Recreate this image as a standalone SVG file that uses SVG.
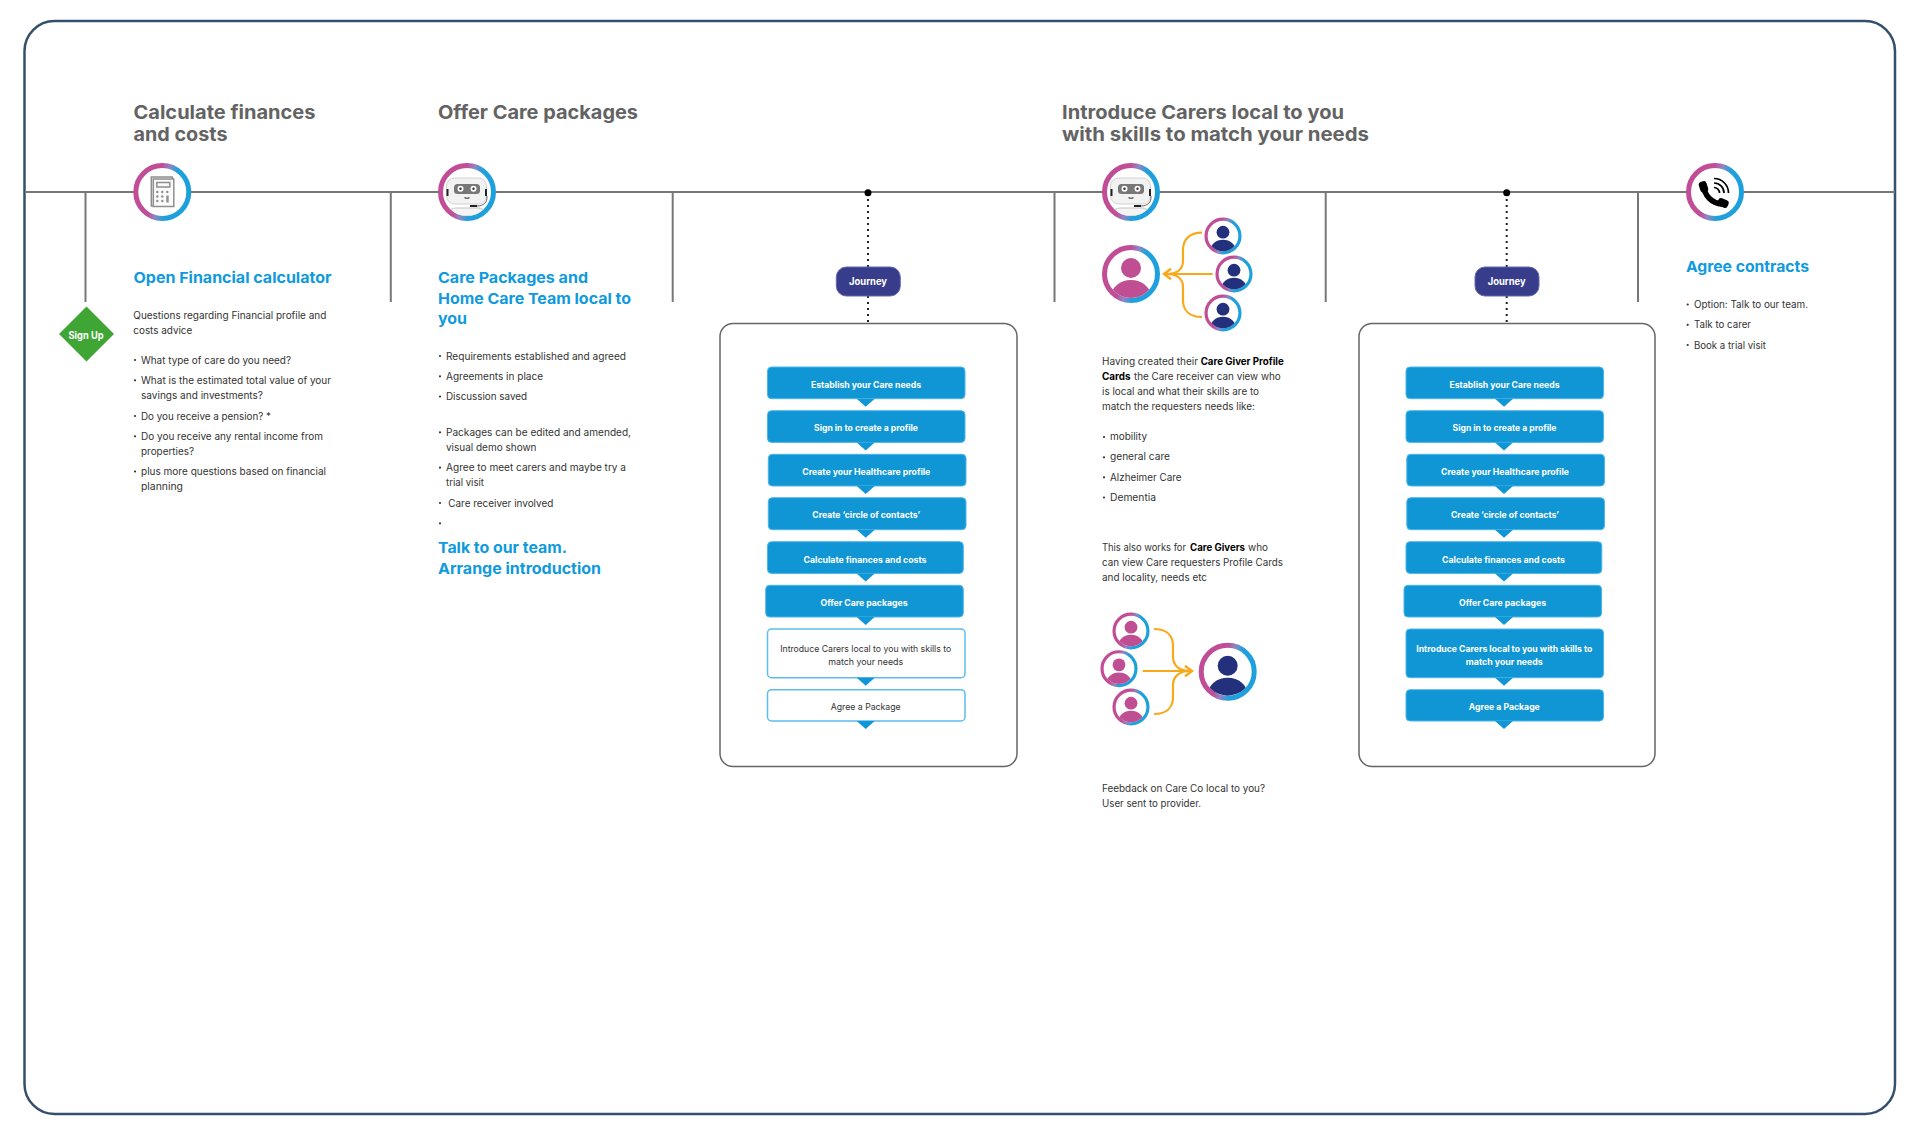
<svg xmlns="http://www.w3.org/2000/svg" width="1920" height="1129" viewBox="0 0 1920 1129">
<style>
text{font-family:Inter,"Liberation Sans",sans-serif}
.h{font-size:19px;font-weight:700;fill:#636363}
.sub{font-size:14.8px;font-weight:700;fill:#0f9ade}
.b{font-size:9.8px;fill:#333;transform:translateY(.4px)}
.bb{font-size:9.8px;font-weight:700;fill:#000;transform:translateY(.4px)}
.st{font-size:8.800px;font-weight:700;fill:#fff;text-anchor:middle;transform:translateY(.7px)}
.sd{font-size:8.800px;fill:#333;text-anchor:middle;transform:translateY(.7px)}
.pill{fill:#373c8b;stroke:#6468ad;stroke-width:1}
.pt{font-size:9.800px;font-weight:700;fill:#fff;text-anchor:middle}
.panel{fill:#fff;stroke:#666;stroke-width:1.5}
.box{fill:#1096d5;stroke:#4db5ea;stroke-width:1}
.wbox{fill:#fff;stroke:#5cbdee;stroke-width:1.5}
.tl{stroke:#777;stroke-width:2;fill:none}
.dot{stroke:#222;stroke-width:2;stroke-dasharray:2 4;fill:none}
.or{stroke:#f9a81a;stroke-width:2.2;fill:none}
.blt{fill:#333}
</style>
<defs>
<linearGradient id="rg" x1="0" y1="0.35" x2="1" y2="0.65"><stop offset="0.36" stop-color="#c04d95"/><stop offset="0.5" stop-color="#8f86c4"/><stop offset="0.66" stop-color="#1ea0dc"/></linearGradient>
<clipPath id="pc"><circle r="24"/></clipPath>
<circle id="ring" r="26.5" fill="#fff" stroke="url(#rg)" stroke-width="5"/>
<g id="pp"><use href="#ring"/><g clip-path="url(#pc)" fill="#bf4f92"><circle cy="-6" r="10"/><ellipse cy="23" rx="20" ry="17"/></g></g>
<g id="pn"><use href="#ring"/><g clip-path="url(#pc)" fill="#23307c"><circle cy="-6" r="10"/><ellipse cy="23" rx="20" ry="17"/></g></g>
<g id="robot">
<use href="#ring"/>
<g clip-path="url(#pc)">
<path d="M-18 24C-18 17-15 16-10 16H10C15 16 18 17 18 24Z" fill="#f4f4f4" stroke="#c4c4c4" stroke-width="1"/>
<rect x="-20.500" y="-14" width="40" height="26" rx="8" fill="#f2f2f2" stroke="#d2d2d2" stroke-width="1"/>
<rect x="-13" y="-8" width="26" height="10" rx="3.500" fill="#777"/>
<circle cx="-6.500" cy="-3.200" r="3" fill="#fff"/><circle cx="6.500" cy="-3.200" r="3" fill="#fff"/>
<circle cx="-6.500" cy="-3.200" r="1.200" fill="#333"/><circle cx="6.500" cy="-3.200" r="1.200" fill="#333"/>
<path d="M-2.500 5.500Q0 7 2.500 5.500" stroke="#444" stroke-width="1.200" fill="none"/>
<rect x="-20.500" y="-3" width="2" height="7" fill="#222"/><rect x="18" y="-3" width="2" height="7" fill="#222"/>
<path d="M20 4C20.500 10 17 14 10 14" stroke="#444" stroke-width="0.800" fill="none"/>
<rect x="3" y="13" width="7" height="2" fill="#222"/>
</g>
</g>
<path id="tri" d="M-9 0H9L0 8Z" fill="#1096d5"/>
<marker id="chev" markerUnits="userSpaceOnUse" markerWidth="14" markerHeight="14" refX="9" refY="6" orient="auto"><path d="M2 0.800L9 6L2 11.200" fill="none" stroke="#f9a81a" stroke-width="2.400"/></marker>
</defs>
<rect width="1920" height="1129" fill="#fff"/>
<rect id="frame" x="24.500" y="21" width="1870.500" height="1093" rx="30" fill="#fff" stroke="#34506b" stroke-width="2.500"/>

<g id="connectors">
<path class="tl" d="M25 192H1895M85.500 192V302M390.800 192V302M672.700 192V302M1054.500 192V302M1325.700 192V302M1638 192V302"/>
<path class="dot" d="M868 193V267M868 296V324M1506.700 193V267M1506.700 296V324"/>
<path class="or" d="M1212.700 274H1164" marker-end="url(#chev)"/>
<path class="or" d="M1202 232.700C1189 232.700 1183 240 1183 250V261C1183 270 1176 274 1166 274M1202 317C1189 317 1183 310 1183 300V287C1183 278 1176 274 1166 274"/>
<path class="or" d="M1142.700 671H1192" marker-end="url(#chev)"/>
<path class="or" d="M1154 629C1167 629 1173 636 1173 646V657C1173 666 1180 671 1190 671M1154 714C1167 714 1173 707 1173 697V685C1173 676 1180 671 1190 671"/>
</g>

<g id="col-finances">
<text class="h" x="133.500" y="118.500" textLength="182" lengthAdjust="spacingAndGlyphs">Calculate finances</text>
<text class="h" x="133.500" y="141" textLength="94" lengthAdjust="spacingAndGlyphs">and costs</text>
</g>
<g id="icon-calculator" transform="translate(162.300 192)">
<use href="#ring"/>
<g fill="none" stroke="#8f8f8f" stroke-width="1.500">
<path d="M-11 -13V-15H10V14H-11Z" fill="#f3f3f3"/><path d="M-9 -13H11.500V14.500H-9Z" fill="#fafafa"/><rect x="-5.500" y="-9.500" width="13" height="4.500"/>
</g>
<g fill="#8f8f8f"><circle cx="-5" cy="0" r="1.200"/><circle cx="0" cy="0" r="1.200"/><circle cx="5" cy="0" r="1.200"/><circle cx="-5" cy="4.500" r="1.200"/><circle cx="0" cy="4.500" r="1.200"/><circle cx="-5" cy="9" r="1.200"/><circle cx="0" cy="9" r="1.200"/><rect x="4" y="3.500" width="2.400" height="7"/></g>
</g>
<g id="sign-up"><path d="M86.500 306.500L114 334L86.500 361.500L59 334Z" fill="#3fa535"/>
<text x="86" y="338.500" font-size="9.800" font-weight="700" fill="#fff" text-anchor="middle" textLength="35" lengthAdjust="spacingAndGlyphs">Sign Up</text></g>
<g id="open-financial">
<text class="sub" x="133.500" y="282.600" textLength="198" lengthAdjust="spacingAndGlyphs">Open Financial calculator</text>
<text class="b" x="133.300" y="319" textLength="193" lengthAdjust="spacingAndGlyphs">Questions regarding Financial profile and</text>
<text class="b" x="133.300" y="333.700" textLength="59" lengthAdjust="spacingAndGlyphs">costs advice</text>
<g class="blt"><circle cx="135" cy="360" r="1.100"/><circle cx="135" cy="380.300" r="1.100"/><circle cx="135" cy="416" r="1.100"/><circle cx="135" cy="436.300" r="1.100"/><circle cx="135" cy="471.500" r="1.100"/></g>
<text class="b" x="141" y="363.700" textLength="150" lengthAdjust="spacingAndGlyphs">What type of care do you need?</text>
<text class="b" x="141" y="384" textLength="190" lengthAdjust="spacingAndGlyphs">What is the estimated total value of your</text>
<text class="b" x="141" y="399" textLength="122" lengthAdjust="spacingAndGlyphs">savings and investments?</text>
<text class="b" x="141" y="419.700" textLength="130" lengthAdjust="spacingAndGlyphs">Do you receive a pension? *</text>
<text class="b" x="141" y="440" textLength="182" lengthAdjust="spacingAndGlyphs">Do you receive any rental income from</text>
<text class="b" x="141" y="455" textLength="53" lengthAdjust="spacingAndGlyphs">properties?</text>
<text class="b" x="141" y="475" textLength="185" lengthAdjust="spacingAndGlyphs">plus more questions based on financial</text>
<text class="b" x="141" y="490" textLength="42" lengthAdjust="spacingAndGlyphs">planning</text>
</g>

<g id="col-offer">
<text class="h" x="438" y="118.500" textLength="200" lengthAdjust="spacingAndGlyphs">Offer Care packages</text>
</g>
<g id="icon-robot-1" transform="translate(467 192)"><use href="#robot"/></g>
<g id="care-packages">
<text class="sub" x="438" y="282.700" textLength="150" lengthAdjust="spacingAndGlyphs">Care Packages and</text>
<text class="sub" x="438" y="303.500" textLength="193" lengthAdjust="spacingAndGlyphs">Home Care Team local to</text>
<text class="sub" x="438" y="324" textLength="29" lengthAdjust="spacingAndGlyphs">you</text>
<g class="blt"><circle cx="440" cy="356" r="1.100"/><circle cx="440" cy="376.300" r="1.100"/><circle cx="440" cy="396.500" r="1.100"/><circle cx="440" cy="432.300" r="1.100"/><circle cx="440" cy="467.700" r="1.100"/><circle cx="440" cy="503" r="1.100"/><circle cx="440" cy="523.300" r="1.100"/></g>
<text class="b" x="446" y="359.500" textLength="180" lengthAdjust="spacingAndGlyphs">Requirements established and agreed</text>
<text class="b" x="446" y="379.700" textLength="97" lengthAdjust="spacingAndGlyphs">Agreements in place</text>
<text class="b" x="446" y="400" textLength="81" lengthAdjust="spacingAndGlyphs">Discussion saved</text>
<text class="b" x="446" y="435.700" textLength="185" lengthAdjust="spacingAndGlyphs">Packages can be edited and amended,</text>
<text class="b" x="446" y="450.400" textLength="90.500" lengthAdjust="spacingAndGlyphs">visual demo shown</text>
<text class="b" x="446" y="471" textLength="180" lengthAdjust="spacingAndGlyphs">Agree to meet carers and maybe try a</text>
<text class="b" x="446" y="486" textLength="38" lengthAdjust="spacingAndGlyphs">trial visit</text>
<text class="b" x="448.300" y="506.300" textLength="105" lengthAdjust="spacingAndGlyphs">Care receiver involved</text>
<text class="sub" x="438" y="553" textLength="129" lengthAdjust="spacingAndGlyphs">Talk to our team.</text>
<text class="sub" x="438" y="573.700" textLength="163" lengthAdjust="spacingAndGlyphs">Arrange introduction</text>
</g>

<g id="journey-1">
<circle cx="868" cy="192.700" r="3.500" fill="#000"/>
<rect class="pill" x="836.300" y="267" width="64" height="29" rx="10"/>
<text class="pt" x="868" y="285" textLength="38" lengthAdjust="spacingAndGlyphs">Journey</text>
</g>
<g id="panel-1">
<rect class="panel" x="720" y="323.500" width="297" height="443" rx="13"/>
<g id="p1-s1"><rect class="box" x="767.500" y="367" width="197.500" height="31.700" rx="4"/><use href="#tri" x="865.700" y="398.700"/><text class="st" x="866" y="387" textLength="110" lengthAdjust="spacingAndGlyphs">Establish your Care needs</text></g>
<g id="p1-s2"><rect class="box" x="767.500" y="410.700" width="197.500" height="31.700" rx="4"/><use href="#tri" x="865.700" y="442.400"/><text class="st" x="866" y="430.700" textLength="104" lengthAdjust="spacingAndGlyphs">Sign in to create a profile</text></g>
<g id="p1-s3"><rect class="box" x="768.300" y="454.300" width="197.700" height="31.700" rx="4"/><use href="#tri" x="865.700" y="486"/><text class="st" x="866.300" y="474.700" textLength="128" lengthAdjust="spacingAndGlyphs">Create your Healthcare profile</text></g>
<g id="p1-s4"><rect class="box" x="768.300" y="497.700" width="197.700" height="32" rx="4"/><use href="#tri" x="865.700" y="529.700"/><text class="st" x="866.300" y="517.700" textLength="108" lengthAdjust="spacingAndGlyphs">Create ‘circle of contacts’</text></g>
<g id="p1-s5"><rect class="box" x="767.500" y="541.700" width="195.800" height="31.700" rx="4"/><use href="#tri" x="865.700" y="573.400"/><text class="st" x="865" y="562" textLength="123" lengthAdjust="spacingAndGlyphs">Calculate finances and costs</text></g>
<g id="p1-s6"><rect class="box" x="765.700" y="585.300" width="197.600" height="31.700" rx="4"/><use href="#tri" x="865.700" y="617"/><text class="st" x="864" y="605.300" textLength="87" lengthAdjust="spacingAndGlyphs">Offer Care packages</text></g>
<g id="p1-s7"><rect class="wbox" x="767.500" y="629" width="197.500" height="48.700" rx="4"/><use href="#tri" x="865.700" y="677.700"/><text class="sd" x="865.700" y="651" textLength="171" lengthAdjust="spacingAndGlyphs">Introduce Carers local to you with skills to</text><text class="sd" x="865.700" y="664.300" textLength="75" lengthAdjust="spacingAndGlyphs">match your needs</text></g>
<g id="p1-s8"><rect class="wbox" x="767.500" y="689.700" width="197.500" height="31.300" rx="4"/><use href="#tri" x="865.700" y="721"/><text class="sd" x="865.700" y="709.700" textLength="70" lengthAdjust="spacingAndGlyphs">Agree a Package</text></g>
</g>

<g id="col-introduce">
<text class="h" x="1062" y="118.500" textLength="282" lengthAdjust="spacingAndGlyphs">Introduce Carers local to you</text>
<text class="h" x="1062" y="141" textLength="307" lengthAdjust="spacingAndGlyphs">with skills to match your needs</text>
</g>
<g id="icon-robot-2" transform="translate(1131 192)"><use href="#robot"/></g>
<g id="person-main" transform="translate(1131 274)"><use href="#pp"/></g>
<g id="carer-1" transform="translate(1223 236) scale(.64)"><use href="#pn"/></g>
<g id="carer-2" transform="translate(1234 274) scale(.64)"><use href="#pn"/></g>
<g id="carer-3" transform="translate(1223 313) scale(.64)"><use href="#pn"/></g>
<g id="introduce-text">
<text class="b" x="1102" y="365" textLength="96" lengthAdjust="spacingAndGlyphs">Having created their</text>
<text class="bb" x="1200.700" y="365" textLength="83" lengthAdjust="spacingAndGlyphs">Care Giver Profile</text>
<text class="bb" x="1102" y="380" textLength="28.500" lengthAdjust="spacingAndGlyphs">Cards</text>
<text class="b" x="1134" y="380" textLength="146.700" lengthAdjust="spacingAndGlyphs">the Care receiver can view who</text>
<text class="b" x="1102" y="395" textLength="157" lengthAdjust="spacingAndGlyphs">is local and what their skills are to</text>
<text class="b" x="1102" y="410" textLength="153" lengthAdjust="spacingAndGlyphs">match the requesters needs like:</text>
<g class="blt"><circle cx="1104" cy="437" r="1.100"/><circle cx="1104" cy="457.300" r="1.100"/><circle cx="1104" cy="477.300" r="1.100"/><circle cx="1104" cy="497.500" r="1.100"/></g>
<text class="b" x="1110" y="440" textLength="37" lengthAdjust="spacingAndGlyphs">mobility</text>
<text class="b" x="1110" y="460" textLength="60" lengthAdjust="spacingAndGlyphs">general care</text>
<text class="b" x="1110" y="480.500" textLength="71.500" lengthAdjust="spacingAndGlyphs">Alzheimer Care</text>
<text class="b" x="1110" y="500.700" textLength="46" lengthAdjust="spacingAndGlyphs">Dementia</text>
<text class="b" x="1102" y="551" textLength="84" lengthAdjust="spacingAndGlyphs">This also works for</text>
<text class="bb" x="1190" y="551" textLength="55" lengthAdjust="spacingAndGlyphs">Care Givers</text>
<text class="b" x="1248" y="551" textLength="20" lengthAdjust="spacingAndGlyphs">who</text>
<text class="b" x="1102" y="566" textLength="181" lengthAdjust="spacingAndGlyphs">can view Care requesters Profile Cards</text>
<text class="b" x="1102" y="581" textLength="105" lengthAdjust="spacingAndGlyphs">and locality, needs etc</text>
</g>
<g id="requester-1" transform="translate(1131 631) scale(.64)"><use href="#pp"/></g>
<g id="requester-2" transform="translate(1119 668.700) scale(.64)"><use href="#pp"/></g>
<g id="requester-3" transform="translate(1131 707) scale(.64)"><use href="#pp"/></g>
<g id="giver-main" transform="translate(1227.700 671.700)"><use href="#pn"/></g>
<g id="feedback">
<text class="b" x="1102" y="792" textLength="163" lengthAdjust="spacingAndGlyphs">Feebdack on Care Co local to you?</text>
<text class="b" x="1102" y="807" textLength="99" lengthAdjust="spacingAndGlyphs">User sent to provider.</text>
</g>

<g id="journey-2">
<circle cx="1506.700" cy="192.700" r="3.500" fill="#000"/>
<rect class="pill" x="1475" y="267" width="64" height="29" rx="10"/>
<text class="pt" x="1506.700" y="285" textLength="38" lengthAdjust="spacingAndGlyphs">Journey</text>
</g>
<g id="panel-2">
<rect class="panel" x="1359" y="323.500" width="296" height="443" rx="13"/>
<g id="p2-s1"><rect class="box" x="1406" y="367" width="197.500" height="31.700" rx="4"/><use href="#tri" x="1504" y="398.700"/><text class="st" x="1504.500" y="387" textLength="110" lengthAdjust="spacingAndGlyphs">Establish your Care needs</text></g>
<g id="p2-s2"><rect class="box" x="1406" y="410.700" width="197.500" height="31.700" rx="4"/><use href="#tri" x="1504" y="442.400"/><text class="st" x="1504.500" y="430.700" textLength="104" lengthAdjust="spacingAndGlyphs">Sign in to create a profile</text></g>
<g id="p2-s3"><rect class="box" x="1406.800" y="454.300" width="197.700" height="31.700" rx="4"/><use href="#tri" x="1504" y="486"/><text class="st" x="1505" y="474.700" textLength="128" lengthAdjust="spacingAndGlyphs">Create your Healthcare profile</text></g>
<g id="p2-s4"><rect class="box" x="1406.800" y="497.700" width="197.700" height="32" rx="4"/><use href="#tri" x="1504" y="529.700"/><text class="st" x="1505" y="517.700" textLength="108" lengthAdjust="spacingAndGlyphs">Create ‘circle of contacts’</text></g>
<g id="p2-s5"><rect class="box" x="1406" y="541.700" width="195.800" height="31.700" rx="4"/><use href="#tri" x="1504" y="573.400"/><text class="st" x="1503.500" y="562" textLength="123" lengthAdjust="spacingAndGlyphs">Calculate finances and costs</text></g>
<g id="p2-s6"><rect class="box" x="1404" y="585.300" width="197.600" height="31.700" rx="4"/><use href="#tri" x="1504" y="617"/><text class="st" x="1502.500" y="605.300" textLength="87" lengthAdjust="spacingAndGlyphs">Offer Care packages</text></g>
<g id="p2-s7"><rect class="box" x="1406" y="629" width="197.500" height="48.700" rx="4"/><use href="#tri" x="1504" y="677.700"/><text class="st" x="1504.300" y="651" textLength="176" lengthAdjust="spacingAndGlyphs">Introduce Carers local to you with skills to</text><text class="st" x="1504.300" y="664.300" textLength="77" lengthAdjust="spacingAndGlyphs">match your needs</text></g>
<g id="p2-s8"><rect class="box" x="1406" y="689.700" width="197.500" height="31.300" rx="4"/><use href="#tri" x="1504" y="721"/><text class="st" x="1504.300" y="709.700" textLength="71" lengthAdjust="spacingAndGlyphs">Agree a Package</text></g>
</g>

<g id="icon-phone" transform="translate(1715 192)">
<use href="#ring"/>
<path d="M-11 -7C-11.500 3 -3 12 8 12" fill="none" stroke="#000" stroke-width="5.500"/>
<rect x="-15.500" y="-10.500" width="8" height="11" rx="3" transform="rotate(-18 -12 -5)" fill="#000"/>
<rect x="2.500" y="7" width="11" height="8" rx="3" transform="rotate(22 8 11)" fill="#000"/>
<path d="M-1 -4.500A5.500 5.500 0 0 1 4.500 1M-1 -9A10 10 0 0 1 9 1M-1 -13.500A14.500 14.500 0 0 1 13.500 1" fill="none" stroke="#000" stroke-width="1.700"/>
</g>
<g id="agree-contracts">
<text class="sub" x="1686" y="272" textLength="123" lengthAdjust="spacingAndGlyphs">Agree contracts</text>
<g class="blt"><circle cx="1687.700" cy="304.500" r="1.100"/><circle cx="1687.700" cy="324.800" r="1.100"/><circle cx="1687.700" cy="345" r="1.100"/></g>
<text class="b" x="1694" y="307.700" textLength="114" lengthAdjust="spacingAndGlyphs">Option: Talk to our team.</text>
<text class="b" x="1694" y="328" textLength="57" lengthAdjust="spacingAndGlyphs">Talk to carer</text>
<text class="b" x="1694" y="348.300" textLength="72" lengthAdjust="spacingAndGlyphs">Book a trial visit</text>
</g>
</svg>
